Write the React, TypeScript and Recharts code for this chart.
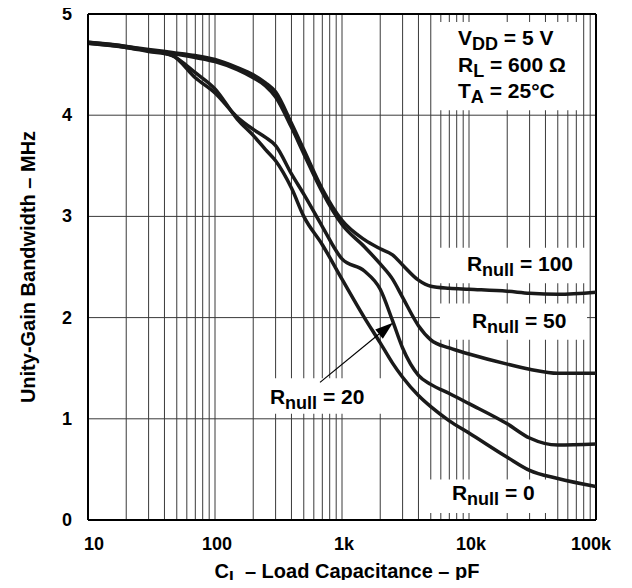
import {
  LineChart,
  Line,
  XAxis,
  YAxis,
  CartesianGrid,
  ReferenceArea,
  ReferenceLine,
} from 'recharts'

// load capacitance, pF
const capacitance = [
  10, 20, 30, 46, 70, 100, 150, 200, 250, 300, 400, 500, 700, 1000, 1500, 2000,
  2500, 3000, 4000, 5000, 7000, 10000, 20000, 30000, 50000, 100000,
]

// unity-gain bandwidth, MHz
const rNull100 = [
  4.72, 4.68, 4.65, 4.62, 4.59, 4.55, 4.47, 4.4, 4.32, 4.23, 3.92, 3.66, 3.27,
  2.96, 2.77, 2.68, 2.62, 2.52, 2.37, 2.31, 2.29, 2.28, 2.26, 2.24, 2.23, 2.25,
]
const rNull50 = [
  4.71, 4.67, 4.64, 4.61, 4.57, 4.53, 4.45, 4.37, 4.29, 4.18, 3.88, 3.62, 3.24,
  2.92, 2.7, 2.53, 2.38, 2.2, 1.92, 1.78, 1.7, 1.64, 1.54, 1.49, 1.45, 1.45,
]
const rNull20 = [
  4.71, 4.67, 4.63, 4.59, 4.37, 4.22, 3.98, 3.86, 3.78, 3.7, 3.42, 3.22, 2.9,
  2.58, 2.46, 2.28, 1.97, 1.7, 1.43, 1.34, 1.25, 1.15, 0.95, 0.81, 0.74, 0.75,
]
const rNull0 = [
  4.72, 4.68, 4.64, 4.59, 4.42, 4.26, 3.96, 3.8, 3.66, 3.55, 3.28, 3.0, 2.72,
  2.38, 2.0, 1.75, 1.55, 1.41, 1.23, 1.12, 0.98, 0.86, 0.62, 0.49, 0.41, 0.33,
]

const xTicks = [10, 100, 1000, 10000, 100000]
const xTickLabels = ['10', '100', '1k', '10k', '100k']
const yTicks = [0, 1, 2, 3, 4, 5]

const decades = [10, 100, 1000, 10000]
const gridC = decades.flatMap((d) => [2, 3, 4, 5, 6, 7, 8, 9, 10].map((m) => m * d))

const conditionLines = [
  ['V', 'DD', ' = 5 V'],
  ['R', 'L', ' = 600 Ω'],
  ['T', 'A', ' = 25°C'],
]

const FONT = '"Liberation Sans", Arial, Helvetica, sans-serif'
const INK = '#1a1a1a'

const rows = capacitance.map((c, i) => ({
  c,
  r100: rNull100[i],
  r50: rNull50[i],
  r20: rNull20[i],
  r0: rNull0[i],
}))

function SubText({ x, y, parts, size, subSize, anchor }: any) {
  return (
    <text
      x={x}
      y={y}
      textAnchor={anchor || 'start'}
      fontFamily={FONT}
      fontWeight='bold'
      fontSize={size}
      fill='#000'
    >
      <tspan>{parts[0]}</tspan>
      <tspan fontSize={subSize} dy={5}>
        {parts[1]}
      </tspan>
      <tspan dy={-5}>{parts[2]}</tspan>
    </text>
  )
}

function NoteText({ viewBox, lines, dx, dy, gap, size, subSize }: any) {
  if (!viewBox) return null
  return (
    <g>
      {lines.map((parts: string[], i: number) => (
        <SubText
          key={i}
          x={viewBox.x + dx}
          y={viewBox.y + dy + i * gap}
          parts={parts}
          size={size}
          subSize={subSize}
        />
      ))}
    </g>
  )
}

function XTick({ x, y, payload }: any) {
  const i = xTicks.indexOf(payload.value)
  const shift = i === 0 ? 6 : i === xTicks.length - 1 ? -5 : 2
  return (
    <text
      x={x + shift}
      y={y + 28}
      textAnchor='middle'
      fontFamily={FONT}
      fontWeight='bold'
      fontSize={18}
      fill='#000'
    >
      {xTickLabels[i]}
    </text>
  )
}

function YTick({ x, y, payload }: any) {
  return (
    <text
      x={x - 14}
      y={y + 6}
      textAnchor='end'
      fontFamily={FONT}
      fontWeight='bold'
      fontSize={18}
      fill='#000'
    >
      {payload.value}
    </text>
  )
}

function XTitle({ viewBox }: any) {
  if (!viewBox) return null
  return (
    <SubText
      x={viewBox.x + viewBox.width / 2 + 5}
      y={viewBox.y + 58}
      parts={['C', 'L', ' – Load Capacitance – pF']}
      size={20}
      subSize={17}
      anchor='middle'
    />
  )
}

function YTitle({ viewBox }: any) {
  if (!viewBox) return null
  const cx = viewBox.x
  const cy = viewBox.y + viewBox.height / 2
  return (
    <text
      x={cx}
      y={cy}
      dy='0.35em'
      textAnchor='middle'
      transform={`rotate(-90, ${cx}, ${cy})`}
      fontFamily={FONT}
      fontWeight='bold'
      fontSize={20}
      fill='#000'
    >
      Unity-Gain Bandwidth – MHz
    </text>
  )
}

function Arrow(props: any) {
  const { x1, y1, x2, y2 } = props
  const a = Math.atan2(y2 - y1, x2 - x1)
  const len = 18
  const half = 6
  const bx = x2 - len * Math.cos(a)
  const by = y2 - len * Math.sin(a)
  const px = -Math.sin(a) * half
  const py = Math.cos(a) * half
  return (
    <g>
      <line x1={x1} y1={y1} x2={bx} y2={by} stroke='#000' strokeWidth={1.2} />
      <polygon
        points={`${x2},${y2} ${bx + px},${by + py} ${bx - px},${by - py}`}
        fill='#000'
      />
    </g>
  )
}

export default function App() {
  return (
    <div style={{ marginBottom: -8 }}>
      <style>{'svg.recharts-surface { overflow: visible; }'}</style>
      <LineChart
        width={616}
        height={580}
        data={rows}
        margin={{ top: 6, right: 28, bottom: 38, left: 20 }}
      >
        <CartesianGrid
          stroke='#3a3a3a'
          strokeWidth={1}
          verticalValues={gridC}
          horizontalValues={[1, 2, 3, 4]}
        />
        <XAxis
          dataKey='c'
          type='number'
          scale='log'
          domain={[10, 100000]}
          ticks={xTicks}
          interval={0}
          allowDataOverflow
          height={30}
          tickSize={0}
          tickLine={false}
          tick={<XTick />}
          axisLine={{ stroke: '#000', strokeWidth: 2 }}
          label={<XTitle />}
        />
        <YAxis
          type='number'
          domain={[0, 5]}
          ticks={yTicks}
          interval={0}
          width={60}
          tickSize={0}
          tickLine={false}
          tick={<YTick />}
          axisLine={{ stroke: '#000', strokeWidth: 2 }}
          label={<YTitle />}
        />

        {/* white boxes behind the notes */}
        <ReferenceArea
          x1={5500}
          x2={75000}
          y1={4.05}
          y2={4.92}
          fill='#fff'
          fillOpacity={1}
          stroke='none'
          label={
            <NoteText lines={conditionLines} dx={22} dy={23} gap={26.5} size={21} subSize={18} />
          }
        />
        <ReferenceArea
          x1={5900}
          x2={82000}
          y1={2.34}
          y2={2.69}
          fill='#fff'
          fillOpacity={1}
          stroke='none'
          label={
            <NoteText lines={[['R', 'null', ' = 100']]} dx={27} dy={23} gap={0} size={21} subSize={18} />
          }
        />
        <ReferenceArea
          x1={5900}
          x2={85000}
          y1={1.78}
          y2={2.14}
          fill='#fff'
          fillOpacity={1}
          stroke='none'
          label={
            <NoteText lines={[['R', 'null', ' = 50']]} dx={32} dy={25} gap={0} size={21} subSize={18} />
          }
        />
        <ReferenceArea
          x1={234}
          x2={2070}
          y1={1.05}
          y2={1.4}
          fill='#fff'
          fillOpacity={1}
          stroke='none'
          label={
            <NoteText lines={[['R', 'null', ' = 20']]} dx={8} dy={26} gap={0} size={21} subSize={18} />
          }
        />
        <ReferenceArea
          x1={4750}
          x2={45800}
          y1={0.07}
          y2={0.4}
          fill='#fff'
          fillOpacity={1}
          stroke='none'
          label={
            <NoteText lines={[['R', 'null', ' = 0']]} dx={24} dy={20} gap={0} size={21} subSize={18} />
          }
        />

        <ReferenceLine y={5} stroke='#000' strokeWidth={2} />
        <ReferenceLine x={100000} stroke='#000' strokeWidth={2} />

        <Line type='monotone' dataKey='r100' stroke={INK} strokeWidth={3.5} dot={false} isAnimationActive={false} />
        <Line type='monotone' dataKey='r50' stroke={INK} strokeWidth={3.5} dot={false} isAnimationActive={false} />
        <Line type='monotone' dataKey='r20' stroke={INK} strokeWidth={3.5} dot={false} isAnimationActive={false} />
        <Line type='monotone' dataKey='r0' stroke={INK} strokeWidth={3.5} dot={false} isAnimationActive={false} />

        <ReferenceLine
          segment={[
            { x: 671, y: 1.36 },
            { x: 2520, y: 1.95 },
          ]}
          shape={<Arrow />}
        />
      </LineChart>
    </div>
  )
}
